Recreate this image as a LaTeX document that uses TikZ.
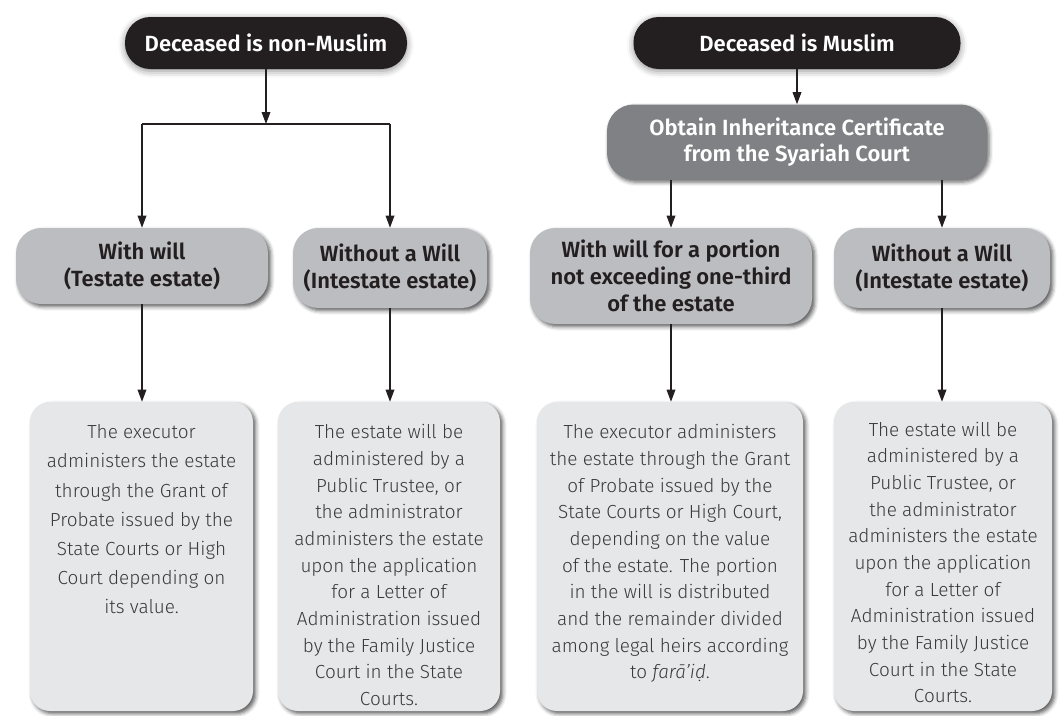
\documentclass[tikz,border=0pt]{standalone}
\usepackage{fontspec}
\setmainfont{Fira Sans}[UprightFont={* Light}, BoldFont={* SemiBold}, ItalicFont={* Light Italic}]
\usetikzlibrary{arrows.meta,shadows.blur}
\definecolor{ink}{HTML}{231F20}
\definecolor{certgray}{HTML}{808184}
\definecolor{midgray}{HTML}{BCBDC0}
\definecolor{lightgray}{HTML}{E6E7E8}
\definecolor{bodytext}{HTML}{3A3A3C}
\tikzset{
  topbox/.style={fill=ink, text=white, font=\bfseries\fontsize{16.5}{18}\selectfont, rounded corners=19pt,
    inner sep=0pt, blur shadow={shadow xshift=0pt, shadow yshift=-1.5pt, shadow blur radius=5pt, shadow opacity=45}},
  certbox/.style={fill=certgray, text=white, font=\bfseries\fontsize{16.5}{20}\selectfont, rounded corners=20pt,
    inner sep=0pt, align=center, blur shadow={shadow xshift=1.5pt, shadow yshift=-2pt, shadow blur radius=3pt, shadow opacity=60}},
  midbox/.style={fill=midgray, text=ink, font=\bfseries\fontsize{16.5}{20.5}\selectfont, rounded corners=19pt,
    inner sep=0pt, align=center, blur shadow={shadow xshift=2pt, shadow yshift=-2pt, shadow blur radius=3pt, shadow opacity=65}},
  textbox/.style={fill=lightgray, text=bodytext, font=\fontsize{14.2}{20}\selectfont, rounded corners=15pt,
    inner sep=0pt, blur shadow={shadow xshift=2pt, shadow yshift=-2pt, shadow blur radius=3pt, shadow opacity=65}},
  conn/.style={draw=ink, line width=0.9pt},
  arr/.style={conn, -{Triangle[length=9pt,width=6.5pt]}},
}
\begin{document}
\begin{tikzpicture}[x=0.75pt,y=-0.75pt]
\useasboundingbox (0,0) rectangle (1061,715);
% top level
\node[topbox, minimum width=211.5pt, minimum height=39pt] (nm) at (266,43) {Deceased is non-Muslim};
\node[topbox, minimum width=245.25pt, minimum height=39pt] (m) at (797,43) {Deceased is Muslim};
\node[certbox, minimum width=285pt, minimum height=56.25pt] (cert) at (797,142) {Obtain Inheritance Certificate\\from the Syariah Court};
% level two
\node[midbox, minimum width=189pt, minimum height=57pt] (ww) at (142,266) {With will\\(Testate estate)};
\node[midbox, minimum width=145.5pt, minimum height=60pt] (wo) at (390,268) {Without a Will\\(Intestate estate)};
\node[midbox, minimum width=211.5pt, minimum height=72pt] (wp) at (671,276) {With will for a portion\\not exceeding one-third\\of the estate};
\node[midbox, minimum width=162pt, minimum height=60pt] (wo2) at (942,268) {Without a Will\\(Intestate estate)};
% level three
\node[textbox, minimum width=167.25pt, minimum height=231.75pt] (t1) at (141.5,556.5) {\parbox[c][231.75pt][t]{164pt}{\centering\fontsize{14.2}{21.9}\selectfont\vspace*{17pt}%
The executor\\administers the estate\\through the Grant of\\Probate issued by the\\State Courts or High\\Court depending on\\its value.}};
\node[textbox, minimum width=166.5pt, minimum height=231.75pt] (t2) at (389,556.5) {\parbox[c][231.75pt][t]{164pt}{\centering\vspace*{17pt}%
The estate will be\\administered by a\\Public Trustee, or\\the administrator\\administers the estate\\upon the application\\for a Letter of\\Administration issued\\by the Family Justice\\Court in the State\\Courts.}};
\node[textbox, minimum width=199.5pt, minimum height=231.75pt] (t3) at (670,556.5) {\parbox[c][231.75pt][t]{197pt}{\centering\vspace*{17pt}%
The executor administers\\the estate through the Grant\\of Probate issued by the\\State Courts or High Court,\\depending on the value\\of the estate. The portion\\in the will is distributed\\and the remainder divided\\among legal heirs according\\to \textit{farā’iḍ}.}};
\node[textbox, minimum width=163.5pt, minimum height=231.75pt] (t4) at (943,556.5) {\parbox[c][231.75pt][t]{161pt}{\centering\vspace*{15pt}%
The estate will be\\administered by a\\Public Trustee, or\\the administrator\\administers the estate\\upon the application\\for a Letter of\\Administration issued\\by the Family Justice\\Court in the State\\Courts.}};
% connectors
\coordinate (bar) at (266,124);
\draw[arr] (nm.south) -- (nm.south |- bar);
\draw[conn] (ww.north |- bar) -- (wo.north |- bar);
\draw[arr] (ww.north |- bar) -- (ww.north);
\draw[arr] (wo.north |- bar) -- (wo.north);
\draw[arr] (m.south) -- (cert.north);
\draw[arr] (cert.south -| wp.north) -- (wp.north);
\draw[arr] (cert.south -| wo2.north) -- (wo2.north);
\draw[arr] (ww.south) -- (t1.north -| ww.south);
\draw[arr] (wo.south) -- (t2.north -| wo.south);
\draw[arr] (wp.south) -- (t3.north -| wp.south);
\draw[arr] (wo2.south) -- (t4.north -| wo2.south);
\end{tikzpicture}
\end{document}
